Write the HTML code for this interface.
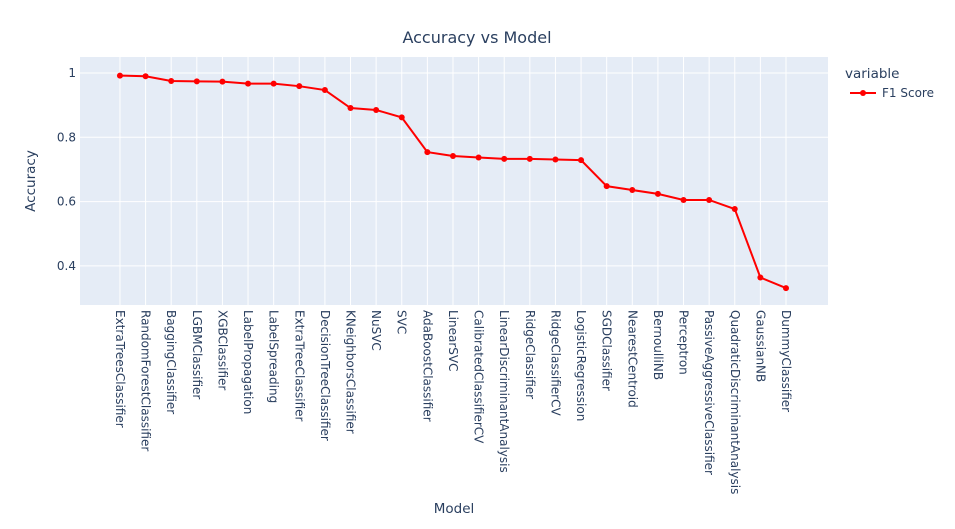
<!DOCTYPE html>
<html><head><meta charset="utf-8"><style>
body{margin:0;background:#fff;font-family:"DejaVu Sans",sans-serif;}
svg text{font-family:"DejaVu Sans",sans-serif;fill:#2a3f5f;}
</style></head><body>
<svg id="chart" width="955" height="525" xmlns="http://www.w3.org/2000/svg">
<rect width="955" height="525" fill="#fff"/>
<text x="477" y="43" text-anchor="middle" font-size="16">Accuracy vs Model</text>
<rect x="80" y="57" width="748" height="248" fill="#e5ecf6"/>
<g id="grid"></g>
<g id="xlabels"></g>
<g id="ylabels"></g>
<g id="series"></g>
<text x="454" y="513" text-anchor="middle" font-size="13.5">Model</text>
<text transform="translate(35,181) rotate(-90)" text-anchor="middle" font-size="13.5">Accuracy</text>
<g>
<text x="845" y="78" font-size="13.5">variable</text>
<g>
<line x1="850" y1="93" x2="876" y2="93" stroke="red" stroke-width="2"/>
<circle cx="863" cy="93" r="3" fill="red"/>
<text x="882" y="97" font-size="12">F1 Score</text>
</g></g>
</svg>
<script>
const categories=["ExtraTreesClassifier","RandomForestClassifier","BaggingClassifier","LGBMClassifier","XGBClassifier","LabelPropagation","LabelSpreading","ExtraTreeClassifier","DecisionTreeClassifier","KNeighborsClassifier","NuSVC","SVC","AdaBoostClassifier","LinearSVC","CalibratedClassifierCV","LinearDiscriminantAnalysis","RidgeClassifier","RidgeClassifierCV","LogisticRegression","SGDClassifier","NearestCentroid","BernoulliNB","Perceptron","PassiveAggressiveClassifier","QuadraticDiscriminantAnalysis","GaussianNB","DummyClassifier"];
const f1Scores=[0.992,0.99,0.975,0.974,0.973,0.967,0.967,0.959,0.947,0.891,0.885,0.862,0.754,0.742,0.737,0.733,0.733,0.731,0.729,0.648,0.636,0.624,0.605,0.605,0.577,0.364,0.331];
const yTicks=[0.4,0.6,0.8,1];
const yTickLabels=["0.4","0.6","0.8","1"];
const NS="http://www.w3.org/2000/svg";
const px0=80,px1=828,py0=57,py1=305;
const n=categories.length;
const xmin=-1.56,xmax=(n-1)+1.64;
function xs(i){return px0+(i-xmin)/(xmax-xmin)*(px1-px0);}
function ys(v){return 394.5-v*321.5;}
function mk(t,a,p){const e=document.createElementNS(NS,t);for(const k in a)e.setAttribute(k,a[k]);p.appendChild(e);return e;}
const grid=document.getElementById('grid'),xl=document.getElementById('xlabels'),yl=document.getElementById('ylabels'),se=document.getElementById('series');
categories.forEach((c,i)=>{
 const x=xs(i);
 const g=mk('line',{x1:x,x2:x,y1:py0,y2:py1,stroke:'#fff','stroke-width':1},grid);
 
 
 const t=mk('text',{transform:`translate(${x-4},310) rotate(90)`,'font-size':12},xl);
 t.textContent=c;
 
 
});
yTicks.forEach((v,i)=>{
 const y=ys(v);
 const g=mk('line',{x1:px0,x2:px1,y1:y,y2:y,stroke:'#fff','stroke-width':1},grid);
 
 
 const t=mk('text',{x:76,y:y+4,'text-anchor':'end','font-size':12},yl);
 t.textContent=yTickLabels[i];
 
 
});
const pts=f1Scores.map((v,i)=>xs(i)+','+ys(v)).join(' ');
const pl=mk('polyline',{points:pts,fill:'none',stroke:'red','stroke-width':2},se);


f1Scores.forEach((v,i)=>{
 const c=mk('circle',{cx:xs(i),cy:ys(v),r:3,fill:'red'},se);
 
 
});
</script>
</body></html>
